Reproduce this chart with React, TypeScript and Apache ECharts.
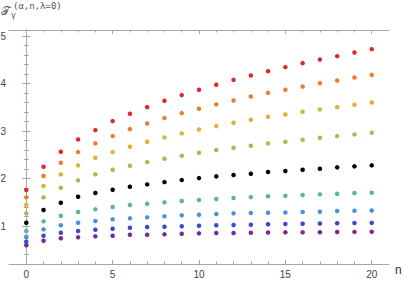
import React, { useEffect, useRef } from "react";
import * as echarts from "echarts";

const nValues = [0, 1, 2, 3, 4, 5, 6, 7, 8, 9, 10, 11, 12, 13, 14, 15, 16, 17, 18, 19, 20];

const redVals = [1.758, 2.248, 2.564, 2.825, 3.021, 3.211, 3.365, 3.505, 3.638, 3.758, 3.87, 3.975, 4.08, 4.172, 4.263, 4.347, 4.432, 4.509, 4.579, 4.657, 4.726];
const orangeVals = [1.604, 2.053, 2.333, 2.558, 2.741, 2.895, 3.042, 3.161, 3.274, 3.379, 3.47, 3.562, 3.646, 3.73, 3.806, 3.87, 3.94, 4.011, 4.067, 4.13, 4.185];
const yellowVals = [1.442, 1.842, 2.088, 2.278, 2.438, 2.558, 2.67, 2.775, 2.867, 2.951, 3.035, 3.105, 3.175, 3.238, 3.301, 3.351, 3.407, 3.457, 3.505, 3.554, 3.604];
const greenVals = [1.267, 1.604, 1.806, 1.962, 2.088, 2.186, 2.27, 2.347, 2.417, 2.48, 2.543, 2.6, 2.649, 2.691, 2.741, 2.775, 2.817, 2.859, 2.895, 2.93, 2.964];
const blackVals = [1.07, 1.337, 1.491, 1.617, 1.695, 1.765, 1.828, 1.877, 1.926, 1.968, 2.01, 2.046, 2.074, 2.101, 2.137, 2.158, 2.186, 2.207, 2.236, 2.257, 2.278];
const tealVals = [0.895, 1.099, 1.217, 1.295, 1.351, 1.4, 1.442, 1.47, 1.499, 1.526, 1.547, 1.568, 1.589, 1.61, 1.628, 1.638, 1.653, 1.667, 1.68, 1.695, 1.701];
const lightBlueVals = [0.762, 0.93, 1.015, 1.07, 1.105, 1.141, 1.162, 1.183, 1.204, 1.225, 1.238, 1.253, 1.267, 1.274, 1.28, 1.285, 1.295, 1.301, 1.316, 1.322, 1.326];
const blueVals = [0.67, 0.796, 0.859, 0.895, 0.922, 0.943, 0.964, 0.979, 0.985, 0.994, 1.006, 1.015, 1.021, 1.027, 1.036, 1.042, 1.049, 1.052, 1.057, 1.063, 1.066];
const purpleVals = [0.594, 0.69, 0.741, 0.762, 0.783, 0.796, 0.817, 0.817, 0.825, 0.838, 0.846, 0.853, 0.853, 0.859, 0.865, 0.867, 0.867, 0.87, 0.874, 0.876, 0.88];

const seriesColors = ["#E3262B", "#EF7C2D", "#DCB23A", "#9CC24E", "#000000", "#5DB690", "#4D91D5", "#3F45D8", "#7A2A8E"];
const seriesValues = [redVals, orangeVals, yellowVals, greenVals, blackVals, tealVals, lightBlueVals, blueVals, purpleVals];

const xMajorTicks = [0, 5, 10, 15, 20];
const xMinorTicks = [1, 2, 3, 4, 6, 7, 8, 9, 11, 12, 13, 14, 16, 17, 18, 19];
const yMajorTicks = [1, 2, 3, 4, 5];
const yMinorTicks = [0.2, 0.4, 0.6, 0.8, 1.2, 1.4, 1.6, 1.8, 2.2, 2.4, 2.6, 2.8, 3.2, 3.4, 3.6, 3.8, 4.2, 4.4, 4.6, 4.8];

const AXIS_COLOR = "#a6a6a6";
const LABEL_COLOR = "#444444";
const FONT = "Liberation Sans";

export default function App() {
  const ref = useRef<HTMLDivElement>(null);
  useEffect(() => {
    if (!ref.current) return;
    const chart = echarts.init(ref.current, null, { renderer: "svg" });

    const xBase = { type: "value" as const, min: -1, max: 21, splitLine: { show: false }, gridIndex: 0 };
    const yBase = { type: "value" as const, min: 0.2, max: 5.13, splitLine: { show: false }, gridIndex: 0 };
    const tick = (len: number, vals: number[]) => ({
      show: true,
      inside: true,
      length: len,
      customValues: vals,
      lineStyle: { color: AXIS_COLOR, width: 1 },
    });

    const option: any = {
      animation: false,
      backgroundColor: "#ffffff",
      grid: { left: 9, top: 30, width: 380, height: 234, containLabel: false, outerBoundsMode: "none" },
      xAxis: [
        {
          ...xBase,
          position: "bottom",
          axisLine: { show: true, lineStyle: { color: AXIS_COLOR } },
          axisTick: tick(4, xMajorTicks),
          axisLabel: { show: true, customValues: xMajorTicks, fontSize: 10, color: LABEL_COLOR, fontFamily: FONT, margin: 5 },
        },
        {
          ...xBase,
          position: "bottom",
          axisLine: { show: false },
          axisTick: tick(2.5, xMinorTicks),
          axisLabel: { show: false },
        },
        {
          ...xBase,
          position: "top",
          axisLine: { show: true, lineStyle: { color: AXIS_COLOR } },
          axisTick: tick(4, xMajorTicks),
          axisLabel: { show: false },
        },
        {
          ...xBase,
          position: "top",
          axisLine: { show: false },
          axisTick: tick(2.5, xMinorTicks),
          axisLabel: { show: false },
        },
      ],
      yAxis: [
        {
          ...yBase,
          position: "left",
          axisLine: { show: true, lineStyle: { color: AXIS_COLOR } },
          axisTick: tick(4, yMajorTicks),
          axisLabel: { show: true, customValues: yMajorTicks, fontSize: 10, color: LABEL_COLOR, fontFamily: FONT, margin: 3 },
        },
        {
          ...yBase,
          position: "left",
          axisLine: { show: false },
          axisTick: tick(2.5, yMinorTicks),
          axisLabel: { show: false },
        },
        {
          ...yBase,
          position: "right",
          axisLine: { show: true, lineStyle: { color: AXIS_COLOR } },
          axisTick: tick(4, yMajorTicks),
          axisLabel: { show: false },
        },
        {
          ...yBase,
          position: "right",
          axisLine: { show: false },
          axisTick: tick(2.5, yMinorTicks),
          axisLabel: { show: false },
        },
      ],
      series: seriesValues.map((vals, i) => ({
        type: "scatter",
        xAxisIndex: 0,
        yAxisIndex: 0,
        symbol: "circle",
        symbolSize: 4.5,
        itemStyle: { color: seriesColors[i], opacity: 1 },
        data: nValues.map((n, j) => [n, vals[j]]),
      })),
      graphic: [
        {
          type: "text",
          left: 1,
          top: 5,
          style: { text: "𝒯", fontSize: 12, fill: "#555555", fontFamily: "DejaVu Serif" },
        },
        {
          type: "text",
          left: 11,
          top: 11,
          style: { text: "γ", fontSize: 8, fill: "#555555", fontFamily: "DejaVu Sans" },
        },
        {
          type: "text",
          left: 13,
          top: 1,
          style: { text: "(α,n,λ=0)", fontSize: 9, fill: "#555555", fontFamily: "DejaVu Sans Mono" },
        },
        {
          type: "text",
          left: 395,
          top: 264,
          style: { text: "n", fontSize: 12, fill: "#333333", fontFamily: FONT },
        },
      ],
    };
    chart.setOption(option);
    return () => chart.dispose();
  }, []);
  return <div ref={ref} style={{ position: "fixed", left: 0, top: 0, width: 404, height: 281 }} />;
}
